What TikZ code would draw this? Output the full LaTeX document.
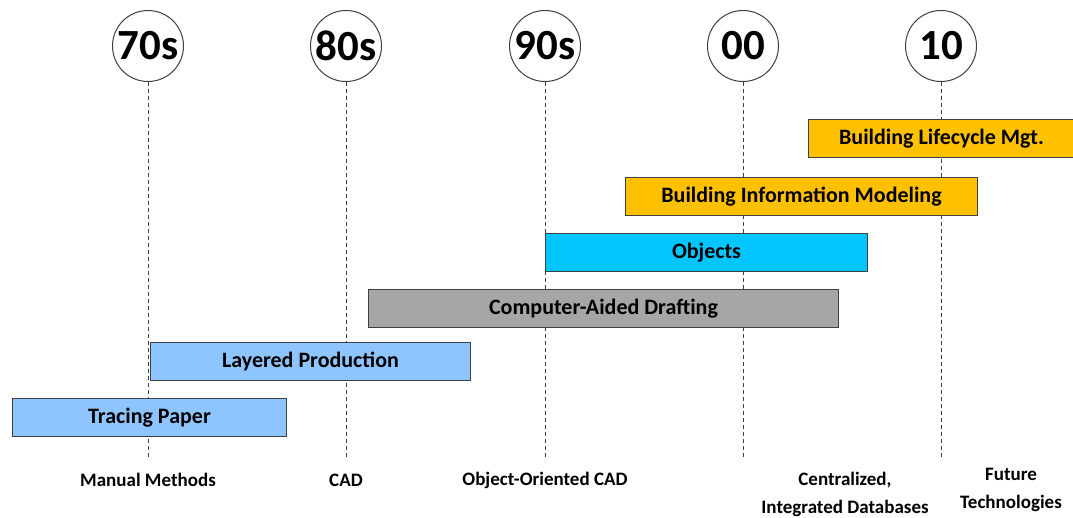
\documentclass[tikz,border=0pt]{standalone}
\usepackage{fontspec}
\setmainfont{Carlito}
\definecolor{lblue}{RGB}{143,197,255}
\definecolor{cyanb}{RGB}{0,197,255}
\definecolor{grayb}{RGB}{166,166,166}
\definecolor{orangeb}{RGB}{255,192,0}
\definecolor{edge}{RGB}{64,64,64}
\tikzset{
  era/.style={circle,draw=edge,line width=1pt,fill=white,minimum size=71pt,inner sep=0pt,
    font=\fontsize{43}{46}\selectfont\bfseries},
  guide/.style={draw=edge,line width=1pt,dash pattern=on 4pt off 3pt},
  bar/.style={draw=edge,line width=1pt,anchor=north west,minimum height=38pt,inner sep=0pt,
    font=\fontsize{22}{24}\selectfont\bfseries},
  lbl/.style={font=\fontsize{19}{28}\selectfont\bfseries,align=center,inner sep=0pt}
}
\begin{document}
\begin{tikzpicture}[x=1pt,y=-1pt]
\useasboundingbox (0,0) rectangle (1073,518);
\foreach \n/\x/\t in {a/148/70s,b/346/80s,c/545/90s,d/743/00,e/941/10}{
  \node[era] (c\n) at (\x,46) {\t};
  \coordinate (e\n) at (\x,458);
  \draw[guide] (c\n.south) -- (e\n);
}
\node[bar,fill=orangeb,minimum width=266pt] (blm) at (808,119) {Building Lifecycle Mgt.};
\node[bar,fill=orangeb,minimum width=352pt] (bim) at (625,177) {Building Information Modeling};
\node[bar,fill=cyanb,minimum width=322pt] (obj) at (545,233) {Objects};
\node[bar,fill=grayb,minimum width=470pt] (cad) at (368,289) {Computer-Aided Drafting};
\node[bar,fill=lblue,minimum width=320pt] (lay) at (150,342) {Layered Production};
\node[bar,fill=lblue,minimum width=274pt] (tp) at (12,398) {Tracing Paper};
\node[lbl] (l1) at (148,480) {Manual Methods};
\node[lbl] (l2) at (346,480) {CAD};
\node[lbl] (l3) at (545,480) {Object-Oriented CAD};
\node[lbl] (l4) at (845,494) {Centralized,\\Integrated Databases};
\node[lbl] (l5) at (1011,490) {Future\\Technologies};
\end{tikzpicture}
\end{document}
